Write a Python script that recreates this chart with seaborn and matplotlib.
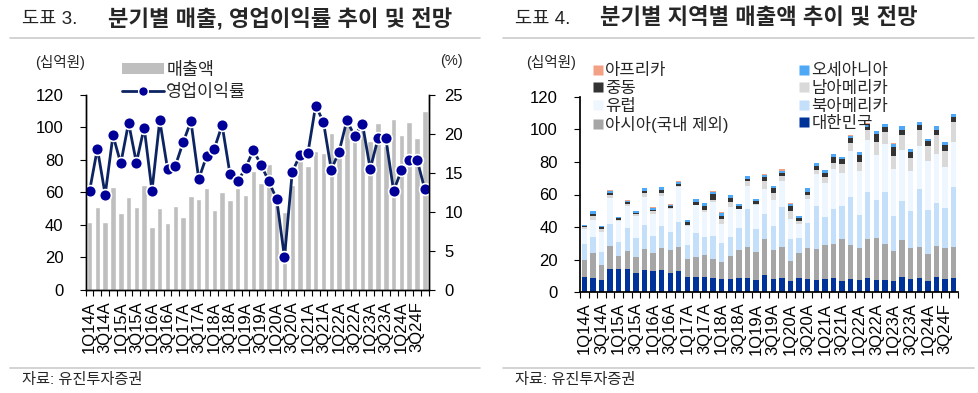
import seaborn as sns
import matplotlib.pyplot as plt
import pandas as pd
from matplotlib.lines import Line2D
from matplotlib.patches import Patch

# 분기 (1Q14A ~ 4Q24F)
quarters = ['1Q14A', '2Q14A', '3Q14A', '4Q14A', '1Q15A', '2Q15A', '3Q15A', '4Q15A',
            '1Q16A', '2Q16A', '3Q16A', '4Q16A', '1Q17A', '2Q17A', '3Q17A', '4Q17A',
            '1Q18A', '2Q18A', '3Q18A', '4Q18A', '1Q19A', '2Q19A', '3Q19A', '4Q19A',
            '1Q20A', '2Q20A', '3Q20A', '4Q20A', '1Q21A', '2Q21A', '3Q21A', '4Q21A',
            '1Q22A', '2Q22A', '3Q22A', '4Q22A', '1Q23A', '2Q23A', '3Q23A', '4Q23A',
            '1Q24A', '2Q24A', '3Q24F', '4Q24F']
tick_labels = quarters[::2]

# 도표 3: 매출액(십억원), 영업이익률(%)
sales = [42.0, 50.9, 41.6, 63.2, 47.4, 57.2, 50.9, 64.6, 38.6, 50.1, 41.0, 51.9,
         44.9, 57.6, 56.2, 62.8, 49.2, 60.1, 55.6, 62.6, 58.5, 73.4, 65.6, 77.2,
         52.0, 47.7, 64.5, 79.5, 75.9, 85.7, 84.1, 96.5, 87.0, 103.5, 98.5, 103.0,
         91.8, 102.7, 88.5, 105.2, 95.3, 103.0, 93.3, 110.2]
margin = [12.7, 18.1, 12.2, 19.8, 16.2, 21.4, 16.3, 20.8, 12.7, 21.7, 15.5, 15.9,
          18.9, 21.6, 14.2, 17.1, 18.1, 21.1, 14.9, 13.9, 15.6, 17.9, 16.0, 13.9,
          11.6, 4.2, 15.1, 17.3, 17.5, 23.6, 21.5, 15.4, 17.7, 21.7, 19.7, 21.3,
          15.5, 19.4, 19.4, 12.7, 15.3, 16.6, 16.7, 12.9]

# 도표 4: 지역별 매출액(십억원)
korea = [9.6, 8.6, 7.6, 14.5, 14.1, 14.3, 12.0, 13.5, 12.9, 13.5, 12.0, 12.9,
         9.6, 9.6, 9.6, 8.8, 8.0, 8.4, 8.6, 9.0, 7.6, 10.8, 8.0, 8.8,
         6.7, 8.8, 8.0, 7.3, 8.4, 8.6, 7.1, 8.2, 7.8, 8.6, 7.3, 7.6,
         6.7, 9.6, 8.0, 8.8, 6.9, 9.6, 8.2, 9.0]
asia = [10.2, 15.7, 9.4, 14.1, 8.2, 10.8, 9.8, 13.3, 11.2, 13.7, 13.7, 14.9,
        11.0, 12.0, 13.1, 11.8, 10.6, 13.9, 17.6, 18.8, 17.3, 21.8, 18.0, 19.2,
        12.4, 15.5, 19.4, 19.4, 20.4, 21.2, 25.3, 21.0, 19.4, 24.3, 26.3, 21.8,
        18.6, 22.4, 19.4, 19.2, 16.5, 19.0, 19.2, 18.6]
n_america = [9.6, 9.8, 7.6, 13.3, 8.4, 14.3, 11.4, 14.3, 10.4, 13.5, 11.2, 15.5,
             8.4, 14.9, 11.0, 14.1, 11.8, 11.8, 13.1, 23.1, 14.1, 15.5, 14.7, 24.5,
             13.9, 8.8, 14.9, 26.5, 17.1, 21.4, 20.4, 29.2, 20.2, 28.8, 23.3, 32.0,
             21.4, 23.9, 22.4, 35.1, 27.3, 26.3, 24.1, 37.1]
europe = [9.2, 10.2, 12.7, 15.7, 13.1, 13.7, 13.5, 17.6, 13.7, 18.4, 13.9, 21.4,
          11.6, 16.9, 15.7, 20.8, 11.8, 18.0, 11.6, 14.1, 14.5, 15.5, 15.9, 15.7,
          12.2, 8.8, 14.7, 19.2, 21.2, 24.5, 20.4, 28.4, 27.1, 32.0, 27.1, 29.8,
          28.8, 31.2, 24.5, 26.5, 29.6, 30.2, 25.1, 27.6]
s_america = [1.2, 2.4, 1.4, 2.0, 0.6, 0.8, 1.2, 2.0, 1.4, 1.6, 1.0, 0.6,
             0.6, 0.4, 1.0, 1.0, 2.9, 3.5, 0.4, 3.1, 0.4, 4.5, 4.1, 3.1,
             4.5, 2.0, 2.9, 2.9, 3.7, 3.7, 5.7, 5.1, 5.3, 5.7, 8.4, 7.1,
             8.0, 9.2, 8.2, 10.2, 9.4, 11.2, 10.2, 12.2]
middle_east = [0.8, 1.2, 1.2, 1.4, 1.0, 1.2, 1.0, 1.6, 1.0, 1.8, 1.0, 1.4,
               2.0, 1.8, 2.7, 4.1, 2.0, 2.0, 1.6, 1.4, 2.0, 2.7, 3.1, 2.0,
               3.1, 1.4, 1.8, 2.4, 2.4, 3.7, 2.7, 2.7, 4.3, 2.0, 4.9, 3.1,
               5.7, 3.5, 3.7, 2.7, 2.9, 3.5, 3.5, 3.1]
oceania = [0.8, 1.8, 0.8, 1.4, 1.0, 0.8, 1.0, 1.4, 1.4, 1.8, 1.0, 1.2,
           1.0, 1.4, 1.8, 1.2, 1.8, 1.8, 1.4, 1.6, 1.4, 1.4, 1.4, 1.2,
           1.6, 1.6, 2.0, 1.6, 1.6, 1.6, 1.4, 1.4, 2.0, 2.0, 1.6, 1.6,
           2.0, 2.2, 1.6, 2.0, 1.6, 2.2, 2.0, 1.6]
africa = [0.1, 0.2, 0.1, 0.2, 0.1, 0.6, 0.1, 0.2, 0.1, 0.2, 0.1, 0.2,
          0.1, 0.2, 0.1, 0.2, 0.1, 0.2, 0.1, 0.2, 0.1, 0.2, 0.1, 1.4,
          0.1, 0.2, 0.1, 0.2, 0.1, 0.2, 0.1, 0.2, 0.1, 0.2, 0.1, 0.2,
          0.1, 0.2, 0.1, 0.2, 0.1, 0.2, 0.1, 0.2]

# 위에서 아래 순서 (histplot 스택은 첫 번째 hue가 맨 위)
regions = {'아프리카': africa, '오세아니아': oceania, '중동': middle_east,
           '남아메리카': s_america, '유럽': europe, '북아메리카': n_america,
           '아시아(국내 제외)': asia, '대한민국': korea}
colors = {'아프리카': '#f2a184', '오세아니아': '#4ea8f5', '중동': '#333333',
          '남아메리카': '#d9d9d9', '유럽': '#eef6ff', '북아메리카': '#c4dffa',
          '아시아(국내 제외)': '#a6a6a6', '대한민국': '#00339a'}

idx = list(range(len(quarters)))
df_left = pd.DataFrame({'idx': idx, 'sales': sales, 'margin': margin})
rows = []
for name, vals in regions.items():
    for i, v in zip(idx, vals):
        rows.append({'idx': i, 'region': name, 'value': v})
df_right = pd.DataFrame(rows)

sns.set_theme(style='ticks')
plt.rcParams['font.family'] = ['Liberation Sans', 'Noto Sans CJK KR', 'DejaVu Sans']
plt.rcParams['axes.edgecolor'] = 'black'
plt.rcParams['xtick.color'] = 'black'
plt.rcParams['ytick.color'] = 'black'

W, H = 979, 393
fig = plt.figure(figsize=(W / 100, H / 100), dpi=100)


def fx(px):
    return px / W


def fy(py):
    return 1 - py / H


def style_x(ax, pad):
    ax.set_xticks(idx[::2])
    ax.set_xticklabels(tick_labels, rotation=90, fontsize=12)
    ax.set_xticks([i - 0.5 for i in idx] + [idx[-1] + 0.5], minor=True)
    ax.tick_params(axis='x', which='major', length=0, pad=pad)
    ax.tick_params(axis='x', which='minor', length=4, width=0.8, direction='out')
    ax.set_xlabel('')


# ---- 도표 3 ----
ax1 = fig.add_axes([fx(85.7), fy(290), fx(343.3), 195.3 / H])
sns.barplot(data=df_left, x='idx', y='sales', color='#bfbfbf', saturation=1,
            width=0.7, ax=ax1)
ax1.set_ylim(0, 120)
ax1.set_yticks(range(0, 121, 20))
ax1.tick_params(axis='y', length=4, width=0.8, labelsize=12, pad=12)
ax1.set_ylabel('')
ax2 = ax1.twinx()
sns.lineplot(data=df_left, x='idx', y='margin', ax=ax2, color='#0c2461', lw=2,
             marker='o', markersize=8.5, markerfacecolor='#000099',
             markeredgecolor='white', markeredgewidth=1.2)
ax2.set_ylim(0, 25)
ax2.set_yticks(range(0, 26, 5))
ax2.tick_params(axis='y', length=4, width=0.8, labelsize=12, pad=7)
ax2.set_ylabel('')
ax1.set_xlim(-0.46, 43.54)
style_x(ax1, 8)
for ax in (ax1, ax2):
    ax.spines['top'].set_visible(False)
    for s in ('left', 'right', 'bottom'):
        ax.spines[s].set_linewidth(1)

handles = [Patch(facecolor='#bfbfbf', edgecolor='none'),
           Line2D([], [], color='#0c2461', lw=2, marker='o', markersize=7,
                  markerfacecolor='#000099', markeredgecolor='white')]
fig.legend(handles, ['매출액', '영업이익률'], loc='upper left',
           bbox_to_anchor=(fx(122), fy(62)), frameon=False, fontsize=12.5,
           handlelength=2.4, handleheight=0.6, handletextpad=0.15,
           labelspacing=0.35, borderpad=0, borderaxespad=0)

# ---- 도표 4 ----
ax3 = fig.add_axes([fx(580), fy(292.3), fx(378), 195.6 / H])
sns.histplot(data=df_right, x='idx', weights='value', hue='region',
             hue_order=list(regions.keys()), palette=colors, multiple='stack',
             discrete=True, shrink=0.62, alpha=1, linewidth=0, legend=False, ax=ax3)
ax3.set_ylim(0, 120)
ax3.set_yticks(range(0, 121, 20))
ax3.tick_params(axis='y', length=4, width=0.8, labelsize=12, pad=12)
ax3.set_ylabel('')
ax3.set_xlim(-0.47, 43.49)
style_x(ax3, 7.5)
ax3.spines['top'].set_visible(False)
ax3.spines['right'].set_visible(False)


def square(name):
    return Line2D([], [], lw=0, marker='s', markersize=6.5,
                  markerfacecolor=colors[name], markeredgecolor='none')


left_names = ['아프리카', '중동', '유럽', '아시아(국내 제외)']
right_names = ['오세아니아', '남아메리카', '북아메리카', '대한민국']
for names, x0 in ((left_names, 592), (right_names, 798)):
    fig.legend([square(n) for n in names], names, loc='upper left',
               bbox_to_anchor=(fx(x0), fy(63.5)), frameon=False, fontsize=12,
               handlelength=0.7, handletextpad=0.1, labelspacing=0.15,
               borderpad=0, borderaxespad=0)

# ---- 제목, 단위, 출처 ----
for x0, x1, num, title, tx in ((10, 480, '도표 3.', '분기별 매출, 영업이익률 추이 및 전망', 108),
                               (503, 974, '도표 4.', '분기별 지역별 매출액 추이 및 전망', 600)):
    fig.text(fx(x0 + 12), fy(19), num, fontsize=13.5, va='center', color='#222222')
    fig.text(fx(tx), fy(19), title, fontsize=16, fontweight='bold', va='center')
    fig.add_artist(Line2D([fx(x0), fx(x1)], [fy(37.5), fy(37.5)], color='#cccccc', lw=1.2))
    fig.add_artist(Line2D([fx(x0), fx(x1)], [fy(367.5), fy(367.5)], color='#cccccc', lw=1.2))
    fig.text(fx(x0 + 12), fy(380), '자료: 유진투자증권', fontsize=11, va='center')

fig.text(fx(35), fy(63), '(십억원)', fontsize=10.5, va='center')
fig.text(fx(440), fy(61), '(%)', fontsize=10.5, va='center')
fig.text(fx(526), fy(63), '(십억원)', fontsize=10.5, va='center')

fig.savefig('out.png', dpi=100)
